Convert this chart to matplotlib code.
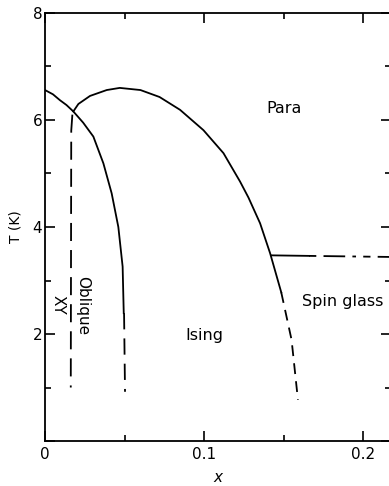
import numpy as np
import matplotlib
matplotlib.use('Agg')
from matplotlib import pyplot as plt

# Ising / oblique boundary (solid, then dashed below ~2.4 K)
ising_x = [0.0, 0.005, 0.0094, 0.0135, 0.0178, 0.024, 0.0304, 0.0367,
           0.0419, 0.0461, 0.0488, 0.0495]
ising_t = [6.56, 6.48, 6.37, 6.28, 6.16, 5.95, 5.69, 5.19,
           4.63, 4.0, 3.26, 2.39]
ising_dash_x = [0.0497, 0.0503]
ising_dash_t = [2.39, 0.92]

# paramagnetic boundary (dome)
para_x = [0.0178, 0.021, 0.0283, 0.0388, 0.047, 0.06, 0.072, 0.0849,
          0.0996, 0.1122, 0.1226, 0.1279, 0.1352, 0.1415, 0.1485]
para_t = [6.16, 6.3, 6.45, 6.56, 6.6, 6.56, 6.43, 6.19,
          5.81, 5.38, 4.85, 4.55, 4.07, 3.51, 2.78]
para_dash_x = [0.1485, 0.155, 0.159]
para_dash_t = [2.78, 1.89, 0.77]

# XY / oblique boundary (dashed vertical)
xy_x = [0.0172, 0.0165, 0.0162]
xy_t = [6.1, 5.8, 1.0]

# spin glass line: solid start, then dash-dot
sg_x = [0.1425, 0.166, 0.2175]
sg_t = [3.47, 3.46, 3.44]

fig = plt.figure(figsize=(3.89, 4.86), dpi=100)
ax = fig.add_axes([45 / 389, 45 / 486, 346 / 389, 428 / 486])
lw = 1.3
ax.plot(ising_x, ising_t, color='black', lw=lw)
ax.plot(ising_dash_x, ising_dash_t, color='black', lw=lw, linestyle=(0, (9, 5)))
ax.plot(para_x, para_t, color='black', lw=lw)
ax.plot(para_dash_x, para_dash_t, color='black', lw=lw, linestyle=(0, (6, 4)))
ax.plot(xy_x, xy_t, color='black', lw=lw, linestyle=(0, (10, 5)))
ax.plot(sg_x[:2], sg_t[:2], color='black', lw=lw)
ax.plot(sg_x[1:], sg_t[1:], color='black', lw=lw, linestyle=(0, (4, 4, 12, 4, 2, 4)))

ax.set_xlim(0, 0.2175)
ax.set_ylim(0, 8)
ax.set_xticks([0, 0.1, 0.2])
ax.set_xticklabels(['0', '0.1', '0.2'])
ax.set_xticks([0.05, 0.15], minor=True)
ax.set_yticks([0, 2, 4, 6, 8])
ax.set_yticklabels(['', '2', '4', '6', '8'])
ax.set_yticks([1, 3, 5, 7], minor=True)
ax.tick_params(which='both', direction='in', top=True, right=True, labelsize=11, width=1.2)
ax.tick_params(which='major', length=7, pad=4)
ax.tick_params(which='minor', length=4)
ax.tick_params(axis='y', pad=2)
for s in ax.spines.values():
    s.set_linewidth(1.3)

ax.set_xlabel('x', fontstyle='italic', fontsize=11, labelpad=6)
ax.set_ylabel('T (K)', fontsize=10, labelpad=7)

ax.text(0.150, 6.22, 'Para', fontsize=11.5, ha='center', va='center')
ax.text(0.187, 2.6, 'Spin glass', fontsize=11.5, ha='center', va='center')
ax.text(0.1, 1.97, 'Ising', fontsize=11.5, ha='center', va='center')
ax.text(0.0235, 2.54, 'Oblique', fontsize=11, ha='center', va='center', rotation=270)
ax.text(0.0085, 2.55, 'XY', fontsize=11, ha='center', va='center', rotation=270)

fig.savefig('out.png', dpi=100)
